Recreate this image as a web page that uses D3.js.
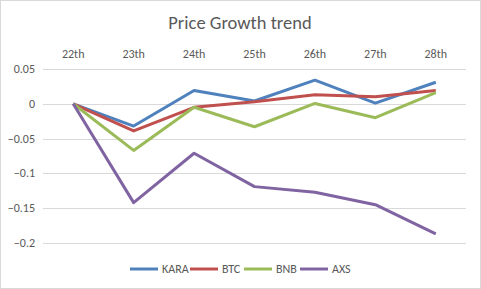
<!DOCTYPE html>
<html>
<head>
<meta charset="utf-8">
<script src="https://cdn.jsdelivr.net/npm/d3@7"></script>
<style>
  body { margin: 0; background: #fff; }
  svg { display: block; font-family: Carlito, Calibri, "Open Sans", sans-serif; }
</style>
</head>
<body>
<svg id="chart" width="481" height="289"></svg>
<script>
// chart data
const days = ["22th", "23th", "24th", "25th", "26th", "27th", "28th"];
const seriesNames = ["KARA", "BTC", "BNB", "AXS"];
const kara = [0, -0.032, 0.019, 0.004, 0.034, 0.001, 0.031];
const btc = [0, -0.039, -0.005, 0.003, 0.013, 0.01, 0.019];
const bnb = [0, -0.067, -0.005, -0.033, 0.0005, -0.02, 0.016];
const axs = [0, -0.142, -0.071, -0.119, -0.127, -0.145, -0.187];
const yTicks = [0.05, 0, -0.05, -0.1, -0.15, -0.2];

const colors = ["#4F81BD", "#C0504D", "#9BBB59", "#8064A2"];
const allSeries = [kara, btc, bnb, axs];

const svg = d3.select("#chart");
const W = 481, H = 289;
const margin = {left: 43, right: 15, top: 69, bottom: 46};

// outer border
svg.append("rect")
    .attr("x", 0.5).attr("y", 0.5)
    .attr("width", W - 1).attr("height", H - 1)
    .attr("fill", "#fff")
    .attr("stroke", "#d9d9d9");

svg.append("text")
    .attr("x", 240).attr("y", 29)
    .attr("text-anchor", "middle")
    .style("font-size", "18.5px")
    .style("fill", "#595959")
    .text("Price Growth trend");

const x = d3.scaleBand()
    .domain(days)
    .range([margin.left, W - margin.right]);

const y = d3.scaleLinear()
    .domain([-0.2, 0.05])
    .range([H - margin.bottom, margin.top]);

// gridlines
svg.append("g")
    .selectAll("line")
    .data(yTicks)
    .enter()
    .append("line")
    .attr("x1", margin.left)
    .attr("x2", W - margin.right)
    .attr("y1", d => Math.round(y(d)) + 0.5)
    .attr("y2", d => Math.round(y(d)) + 0.5)
    .attr("stroke", "#d9d9d9")
    .attr("stroke-width", 1);

// y tick labels
svg.append("g")
    .selectAll("text")
    .data(yTicks)
    .enter()
    .append("text")
    .attr("x", 35)
    .attr("y", d => y(d) + 4)
    .attr("text-anchor", "end")
    .style("font-size", "12px")
    .style("fill", "#595959")
    .text(d => d3.format("")(d));

// category labels at top
svg.append("g")
    .selectAll("text")
    .data(days)
    .enter()
    .append("text")
    .attr("x", d => x(d) + x.bandwidth() / 2)
    .attr("y", 58)
    .attr("text-anchor", "middle")
    .style("font-size", "12px")
    .style("fill", "#595959")
    .text(d => d);

const line = d3.line()
    .x((d, i) => x(days[i]) + x.bandwidth() / 2)
    .y(d => y(d));

allSeries.forEach((s, k) => {
    svg.append("path")
        .datum(s)
        .attr("d", line)
        .attr("fill", "none")
        .attr("stroke", colors[k])
        .attr("stroke-width", 3)
        .attr("stroke-linejoin", "round");
});

// legend
const legendX = [130, 190, 244, 300];
const legend = svg.append("g");
seriesNames.forEach((name, k) => {
    legend.append("line")
        .attr("x1", legendX[k]).attr("x2", legendX[k] + 28)
        .attr("y1", 269).attr("y2", 269)
        .attr("stroke", colors[k])
        .attr("stroke-width", 3);
    legend.append("text")
        .attr("x", legendX[k] + 32)
        .attr("y", 273)
        .style("font-size", "12px")
        .style("fill", "#595959")
        .text(name);
});
</script>
</body>
</html>
